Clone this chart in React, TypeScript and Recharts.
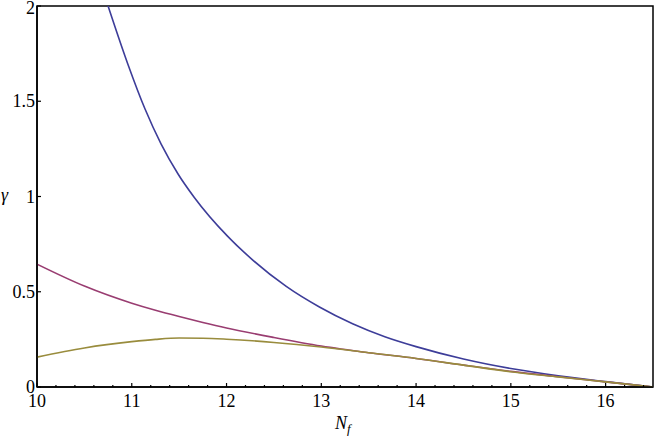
import React from 'react'
import { LineChart, Line, XAxis, YAxis, ReferenceArea } from 'recharts'

// N_f sample points
const nf = [10, 10.5, 11, 11.25, 11.5, 11.75, 12, 12.5, 13, 13.5, 14, 14.5, 15, 15.5, 16, 16.5]
const blueNf = [10.75, 10.96, 11.14, 11.31, 11.49, 11.66, 12.01, 12.28, 12.63, 12.98, 13.33, 13.67, 14, 14.5, 15, 15.5, 16, 16.5]

const gammaBlue = [2.0, 1.693, 1.459, 1.275, 1.117, 0.995, 0.792, 0.665, 0.528, 0.42, 0.332, 0.264, 0.212, 0.147, 0.097, 0.059, 0.028, 0]
const gammaMagenta = [0.645, 0.53, 0.44, 0.403, 0.37, 0.339, 0.31, 0.26, 0.215, 0.18, 0.15, 0.115, 0.082, 0.054, 0.027, 0]
const gammaGold = [0.157, 0.205, 0.238, 0.25, 0.257, 0.256, 0.251, 0.234, 0.21, 0.18, 0.15, 0.115, 0.08, 0.053, 0.027, 0]

const xTicks = [10, 10.2, 10.4, 10.6, 10.8, 11, 11.2, 11.4, 11.6, 11.8, 12, 12.2, 12.4, 12.6, 12.8, 13, 13.2, 13.4, 13.6, 13.8,
  14, 14.2, 14.4, 14.6, 14.8, 15, 15.2, 15.4, 15.6, 15.8, 16, 16.2, 16.4]
const yTicks = [0, 0.5, 1, 1.5, 2]

const FONT = '"Times New Roman", Tinos, "Liberation Serif", "Noto Serif", "DejaVu Serif", serif'
const BLUE = '#3d3d99'
const MAGENTA = '#993d71'
const GOLD = '#998c3d'

const blueData = blueNf.map((x, i) => ({ x, y: gammaBlue[i] }))
const magentaData = nf.map((x, i) => ({ x, y: gammaMagenta[i] }))
const goldData = nf.map((x, i) => ({ x, y: gammaGold[i] }))

function XTick(props: any) {
  const { x, y, payload } = props
  const v = payload.value
  const major = Math.abs(v - Math.round(v)) < 1e-6
  return (
    <g>
      <line x1={x} x2={x} y1={y} y2={y - (major ? 4 : 2)} stroke="#000" strokeWidth={1.2} />
      {major && (
        <text x={x} y={y + 20} textAnchor="middle" fontFamily={FONT} fontSize={18} fill="#000">
          {Math.round(v)}
        </text>
      )}
    </g>
  )
}

function YTick(props: any) {
  const { x, y, payload } = props
  return (
    <g>
      <line x1={x} x2={x + 4} y1={y} y2={y} stroke="#000" strokeWidth={1.2} />
      <text x={x - 2} y={Math.max(y + 6, 14)} textAnchor="end" fontFamily={FONT} fontSize={18} fill="#000">
        {String(payload.value)}
      </text>
    </g>
  )
}

export default function App() {
  return (
    <div style={{ position: 'absolute', left: 0, top: 0, width: 655, height: 436, background: '#fff' }}>
      <LineChart width={655} height={436} margin={{ top: 6, right: 2, left: 0, bottom: 0 }}>
        <XAxis
          dataKey="x"
          type="number"
          domain={[10, 16.5]}
          ticks={xTicks}
          allowDataOverflow
          height={49}
          tickSize={0}
          tickMargin={0}
          tickLine={false}
          tick={<XTick />}
          axisLine={{ stroke: '#000', strokeWidth: 1.5 }}
          interval={0}
        />
        <YAxis
          type="number"
          domain={[0, 2]}
          ticks={yTicks}
          allowDataOverflow
          width={37}
          tickSize={0}
          tickMargin={0}
          tickLine={false}
          tick={<YTick />}
          axisLine={{ stroke: '#000', strokeWidth: 1.5 }}
          interval={0}
        />
        <ReferenceArea x1={10} x2={16.5} y1={0} y2={2} fill="none" stroke="#000" strokeWidth={1.5} ifOverflow="visible" />
        <Line data={blueData} dataKey="y" type="monotone" stroke={BLUE} strokeWidth={1.6} dot={false} isAnimationActive={false} />
        <Line data={magentaData} dataKey="y" type="monotone" stroke={MAGENTA} strokeWidth={1.6} dot={false} isAnimationActive={false} />
        <Line data={goldData} dataKey="y" type="monotone" stroke={GOLD} strokeWidth={1.6} dot={false} isAnimationActive={false} />
      </LineChart>
      <span style={{ position: 'absolute', left: 1, top: 186, fontFamily: FONT, fontSize: 18, lineHeight: '18px', fontStyle: 'italic' }}>
        γ
      </span>
      <span style={{ position: 'absolute', left: 335, top: 414, fontFamily: FONT, fontSize: 18, lineHeight: '18px', fontStyle: 'italic', whiteSpace: 'nowrap' }}>
        N<sub style={{ fontSize: 13, verticalAlign: '-4px', lineHeight: 0 }}>f</sub>
      </span>
    </div>
  )
}
